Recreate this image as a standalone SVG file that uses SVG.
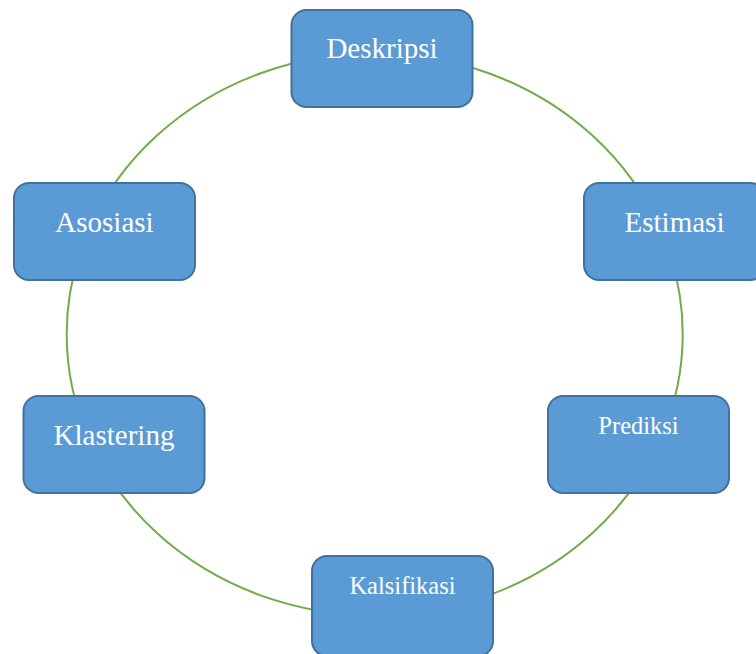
<svg xmlns="http://www.w3.org/2000/svg" width="756" height="654" viewBox="0 0 756 654">
  <style>
    .box { fill: #5B9BD5; stroke: #41719C; stroke-width: 2; }
    .lbl { fill: #FFFFFF; font-family: "Liberation Serif", "Times New Roman", serif; text-anchor: middle; }
    .big { font-size: 29px; }
    .small { font-size: 24.5px; }
    .ring { fill: none; stroke: #70AD47; stroke-width: 2; }
  </style>
  <rect width="756" height="654" fill="#FFFFFF"/>

  <!-- cycle ring behind the stages -->
  <g id="connectors">
    <ellipse class="ring" cx="374.7" cy="334.3" rx="308" ry="281"/>
  </g>

  <g id="deskripsi">
    <rect class="box" x="291.5" y="10" width="181" height="97" rx="15"/>
    <text class="lbl big" x="382" y="58">Deskripsi</text>
  </g>
  <g id="estimasi">
    <rect class="box" x="584" y="183" width="181" height="97" rx="15"/>
    <text class="lbl big" x="674.5" y="231.5">Estimasi</text>
  </g>
  <g id="prediksi">
    <rect class="box" x="548" y="396" width="181" height="97" rx="15"/>
    <text class="lbl small" x="638.5" y="433.5">Prediksi</text>
  </g>
  <g id="kalsifikasi">
    <rect class="box" x="312" y="556" width="181" height="100" rx="15"/>
    <text class="lbl small" x="402.5" y="594">Kalsifikasi</text>
  </g>
  <g id="klastering">
    <rect class="box" x="23.5" y="396" width="181" height="97" rx="15"/>
    <text class="lbl big" x="114" y="445">Klastering</text>
  </g>
  <g id="asosiasi">
    <rect class="box" x="14" y="183" width="181" height="97" rx="15"/>
    <text class="lbl big" x="104.5" y="231.5">Asosiasi</text>
  </g>
</svg>
